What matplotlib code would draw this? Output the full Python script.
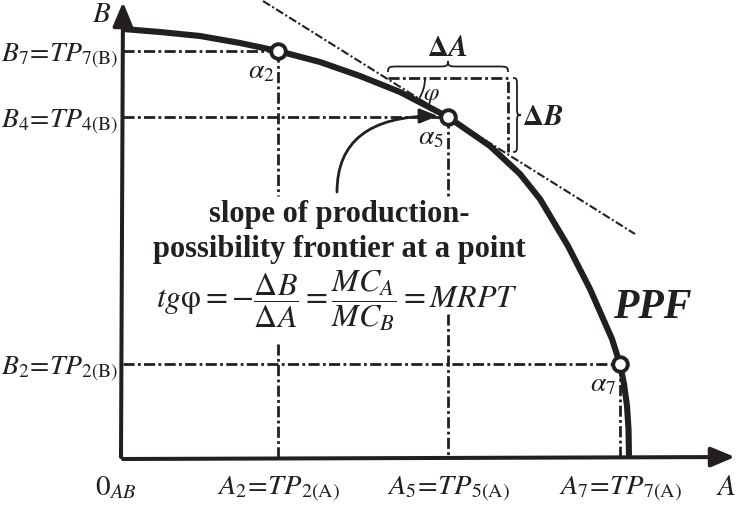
import numpy as np
import matplotlib.pyplot as plt
from matplotlib.patches import Arc, FancyArrowPatch, PathPatch
from matplotlib.path import Path

plt.rcParams['mathtext.fontset'] = 'stix'
plt.rcParams['font.family'] = ['Liberation Serif', 'DejaVu Serif']

ink = '#231f20'

# PPF (origin = axes corner, units ~ px)
ppf_a = [0, 37, 77, 117, 155, 197, 237, 277, 325, 367, 397, 417, 445,
         467, 489, 497, 501, 504, 505.5, 506]
ppf_b = [428, 425, 421, 414, 406, 395, 381, 365, 340, 311, 283, 258, 211,
         168, 118, 93, 73, 51, 28, 0]

# marked points alpha_2, alpha_5, alpha_7
pt_idx = ['2', '5', '7']
pt_a = [155, 325, 497]
pt_b = [406, 340, 93]
b_idx = ['7', '4', '2']

# tangent at alpha_5 and the dA / dB triangle
tan_a = [140, 512]
tan_b = [456, 223]
rect_a = [265, 385]
rect_b = [379, 305]

# where the vertical guides are broken by the text block
gap_top = 261
gap_bottom = [113, 143]

fig = plt.figure(figsize=(7.36, 5.06), dpi=100)
ax = fig.add_axes([0, 0, 1, 1])
ax.set_xlim(-123, 613)
ax.set_ylim(-48, 458)
ax.axis('off')

dd = (0, (4, 1.2, 1, 1.2))

# guides
for a, b in zip(pt_a, pt_b):
    ax.plot([0, a], [b, b], color=ink, lw=2, ls=dd, zorder=2)
ax.plot([pt_a[0], pt_a[0]], [pt_b[0], gap_top], color=ink, lw=2, ls=dd)
ax.plot([pt_a[0], pt_a[0]], [gap_bottom[0], 0], color=ink, lw=2, ls=dd)
ax.plot([pt_a[1], pt_a[1]], [pt_b[1], gap_top], color=ink, lw=2, ls=dd)
ax.plot([pt_a[1], pt_a[1]], [gap_bottom[1], 0], color=ink, lw=2, ls=dd)
ax.plot([pt_a[2], pt_a[2]], [pt_b[2], 0], color=ink, lw=2, ls=dd)

# tangent and triangle
ax.plot(tan_a, tan_b, color=ink, lw=1.5, ls=dd)
ax.plot([rect_a[0], rect_a[1], rect_a[1]], [rect_b[0], rect_b[0], rect_b[1]],
        color=ink, lw=2, ls=dd)

# axes with arrows
for tip in [(612, 0), (0, 455)]:
    ax.annotate('', xy=tip, xytext=(-2 if tip[1] else 0, -2 if tip[0] else 0),
                arrowprops=dict(arrowstyle='-|>,head_length=0.72,head_width=0.3',
                                mutation_scale=20, lw=2.9, color=ink,
                                shrinkA=0, shrinkB=0))

# PPF curve
ax.plot(ppf_a, ppf_b, color=ink, lw=4.4, solid_capstyle='butt',
        solid_joinstyle='round', zorder=4)
ax.plot(pt_a, pt_b, 'o', ms=10.5, mfc='white', mec=ink, mew=2.8, zorder=5)

# angle phi
ax.add_patch(Arc((263, 379), 78, 78, theta1=-32, theta2=0, color=ink, lw=1.3))
ax.text(300, 362, r'$\varphi$', fontsize=18, color=ink, va='center')


def brace(p0, p1, h):
    p0 = np.array(p0, float)
    p1 = np.array(p1, float)
    L = np.linalg.norm(p1 - p0)
    t = (p1 - p0) / L
    n = np.array([-t[1], t[0]])
    r = abs(h) * 0.9
    uv = [(0, 0), (0, h * .5), (r * .2, h * .5), (r, h * .5),
          (L / 2 - r, h * .5),
          (L / 2 - r * .2, h * .5), (L / 2, h * .5), (L / 2, h),
          (L / 2, h * .5), (L / 2 + r * .2, h * .5), (L / 2 + r, h * .5),
          (L - r, h * .5),
          (L - r * .2, h * .5), (L, h * .5), (L, 0)]
    verts = [p0 + u * t + v * n for u, v in uv]
    codes = [Path.MOVETO] + [Path.CURVE4] * 3 + [Path.LINETO] + \
        [Path.CURVE4] * 6 + [Path.LINETO] + [Path.CURVE4] * 3
    ax.add_patch(PathPatch(Path(verts, codes), fc='none', ec=ink, lw=1.3))


brace((rect_a[0], 385), (rect_a[1], 385), 11)
brace((390, rect_b[0]), (390, rect_b[1]), 8)
ax.text(324, 409, r'$\mathbf{\Delta}\mathbfit{A}$', fontsize=21, color=ink,
        ha='center', va='center')
ax.text(399, 340, r'$\mathbf{\Delta}\mathbfit{B}$', fontsize=21, color=ink,
        ha='left', va='center')

# curved arrow to alpha_5
ax.add_patch(FancyArrowPatch((214, 265), (315, 341),
                             connectionstyle='angle3,angleA=90,angleB=0',
                             arrowstyle='-|>,head_length=0.55,head_width=0.22',
                             mutation_scale=20, lw=2, color=ink,
                             shrinkA=0, shrinkB=0, zorder=6))

# point labels
for i, a, b in zip(pt_idx, pt_a, pt_b):
    ax.text(a - 17, b - 20, r'$\alpha_{%s}$' % i, fontsize=20, color=ink,
            ha='center', va='center')

# axis labels
for i, b in zip(b_idx, pt_b):
    ax.text(-5, b - 10, r'$B_{%s}\!=\!TP_{%s\mathrm{(B)}}$' % (i, i),
            fontsize=20, color=ink, ha='right', va='baseline')
for i, a in zip(pt_idx, pt_a):
    ax.text(a, -37, r'$A_{%s}\!=\!TP_{%s\mathrm{(A)}}$' % (i, i),
            fontsize=20.5, color=ink, ha='center', va='baseline')
ax.text(-7, -37, r'$0_{AB}$', fontsize=21, color=ink, ha='center', va='baseline')
ax.text(603, -37, r'$A$', fontsize=21, color=ink, ha='center', va='baseline')
ax.text(-21, 436, r'$B$', fontsize=21, color=ink, ha='center', va='baseline')

# explanation
ax.text(216, 236, 'slope of production-', fontsize=22, fontweight='bold',
        color=ink, ha='center', va='baseline')
ax.text(216, 201, 'possibility frontier at a point', fontsize=22,
        fontweight='bold', color=ink, ha='center', va='baseline')
ax.text(214, 150,
        r'$tg\mathrm{\varphi}=-\dfrac{\Delta B}{\Delta A}=\dfrac{MC_{A}}{MC_{B}}=MRPT$',
        fontsize=23, color=ink, ha='center', va='baseline')
ax.text(490, 140, 'PPF', fontsize=30, fontweight='bold', fontstyle='italic',
        color=ink, ha='left', va='baseline')

fig.savefig('out.png', dpi=100)
